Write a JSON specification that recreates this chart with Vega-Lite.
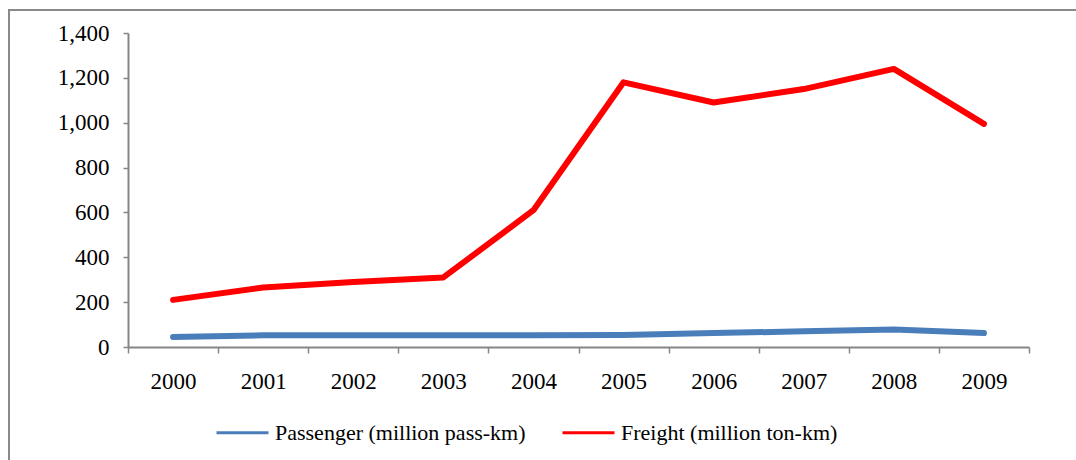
{
  "$schema": "https://vega.github.io/schema/vega-lite/v6.json",
  "autosize": {"type": "none"},
  "width": 1067,
  "height": 450,
  "padding": {"left": 9, "top": 10, "right": 0, "bottom": 0},
  "background": "white",
  "config": {
    "view": {"stroke": "#898989", "strokeWidth": 2, "strokeDash": [1067, 1517, 452, 0]},
    "font": "Liberation Serif"
  },
  "data": {
    "values": [
      {"year": "2000", "series": "Passenger (million pass-km)", "value": 45},
      {"year": "2001", "series": "Passenger (million pass-km)", "value": 52},
      {"year": "2002", "series": "Passenger (million pass-km)", "value": 52},
      {"year": "2003", "series": "Passenger (million pass-km)", "value": 52},
      {"year": "2004", "series": "Passenger (million pass-km)", "value": 52},
      {"year": "2005", "series": "Passenger (million pass-km)", "value": 53},
      {"year": "2006", "series": "Passenger (million pass-km)", "value": 62},
      {"year": "2007", "series": "Passenger (million pass-km)", "value": 70},
      {"year": "2008", "series": "Passenger (million pass-km)", "value": 78},
      {"year": "2009", "series": "Passenger (million pass-km)", "value": 62},
      {"year": "2000", "series": "Freight (million ton-km)", "value": 210},
      {"year": "2001", "series": "Freight (million ton-km)", "value": 265},
      {"year": "2002", "series": "Freight (million ton-km)", "value": 290},
      {"year": "2003", "series": "Freight (million ton-km)", "value": 310},
      {"year": "2004", "series": "Freight (million ton-km)", "value": 610},
      {"year": "2005", "series": "Freight (million ton-km)", "value": 1180},
      {"year": "2006", "series": "Freight (million ton-km)", "value": 1090},
      {"year": "2007", "series": "Freight (million ton-km)", "value": 1150},
      {"year": "2008", "series": "Freight (million ton-km)", "value": 1240},
      {"year": "2009", "series": "Freight (million ton-km)", "value": 995}
    ]
  },
  "mark": {"type": "line", "strokeWidth": 6, "strokeCap": "round", "strokeJoin": "round"},
  "encoding": {
    "x": {
      "field": "year",
      "type": "ordinal",
      "bandPosition": 0.5,
      "scale": {"type": "band", "range": [119, 1020], "paddingInner": 0, "paddingOuter": 0},
      "axis": {
        "title": null,
        "offset": -113,
        "labelAngle": 0,
        "tickBand": "extent",
        "tickSize": 6,
        "tickWidth": 1.5,
        "tickColor": "#868686",
        "domainColor": "#868686",
        "domainWidth": 2,
        "labelFont": "Liberation Serif",
        "labelFontSize": 23,
        "labelColor": "black",
        "labelPadding": 17
      }
    },
    "y": {
      "field": "value",
      "type": "quantitative",
      "scale": {"domain": [0, 1400], "range": [337, 23], "nice": false},
      "axis": {
        "title": null,
        "offset": -119,
        "grid": false,
        "values": [0, 200, 400, 600, 800, 1000, 1200, 1400],
        "format": ",d",
        "tickSize": 5,
        "tickWidth": 1.5,
        "tickColor": "#868686",
        "domainColor": "#868686",
        "domainWidth": 2,
        "labelFont": "Liberation Serif",
        "labelFontSize": 23,
        "labelColor": "black",
        "labelPadding": 14
      }
    },
    "color": {
      "field": "series",
      "type": "nominal",
      "sort": ["Passenger (million pass-km)", "Freight (million ton-km)"],
      "scale": {"domain": ["Passenger (million pass-km)", "Freight (million ton-km)"], "range": ["#4a7ebb", "#ff0000"]},
      "legend": {
        "title": null,
        "orient": "none",
        "direction": "horizontal",
        "legendX": 206,
        "legendY": 395,
        "padding": 0,
        "symbolType": "stroke",
        "symbolSize": 2704,
        "symbolStrokeWidth": 3,
        "labelFont": "Liberation Serif",
        "labelFontSize": 22,
        "labelColor": "black",
        "labelOffset": 5,
        "labelLimit": 400,
        "columnPadding": 30
      }
    }
  }
}
